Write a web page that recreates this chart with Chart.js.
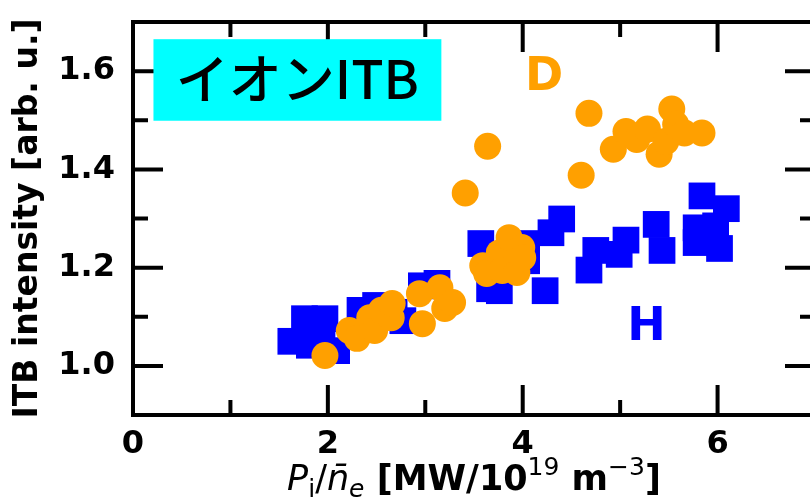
<!DOCTYPE html>
<html>
<head>
<meta charset="utf-8">
<script src="https://cdn.jsdelivr.net/npm/chart.js@4.4.1/dist/chart.umd.min.js"></script>
<style>
  html, body { margin: 0; padding: 0; background: #fff; overflow: hidden; }
  #wrap { width: 810px; height: 503px; overflow: hidden; }
</style>
</head>
<body>
<div id="wrap"><canvas id="myChart" width="830" height="503"></canvas></div>
<script>
// D (deuterium) points
var dX = [1.97, 2.22, 2.30, 2.43, 2.48, 2.55, 2.65, 2.66, 2.94, 2.97, 3.15, 3.20, 3.28,
          3.41, 3.64, 3.59, 3.63, 3.76, 3.79, 3.86, 3.94, 3.99, 4.00,
          4.60, 4.68, 4.93, 5.06, 5.17, 5.28, 5.40, 5.47, 5.53, 5.57, 5.66, 5.84];
var dY = [1.021, 1.072, 1.056, 1.098, 1.072, 1.113, 1.098, 1.127, 1.147, 1.086, 1.159, 1.117, 1.129,
          1.352, 1.447, 1.204, 1.188, 1.230, 1.194, 1.261, 1.190, 1.241, 1.220,
          1.388, 1.514, 1.441, 1.477, 1.461, 1.482, 1.431, 1.457, 1.523, 1.492, 1.474, 1.474];

// H (hydrogen) points
var hX = [1.62, 1.76, 1.97, 1.94, 2.09, 1.81,
          2.33, 2.49, 2.68, 2.77, 2.96, 3.12,
          3.57, 3.66, 3.76, 4.04, 4.04, 4.29, 4.40, 4.23,
          4.68, 4.75, 4.99, 5.06, 5.37, 5.43, 5.78, 5.78, 5.84, 6.09, 6.02, 5.98];
var hY = [1.050, 1.096, 1.096, 1.056, 1.031, 1.042,
          1.113, 1.123, 1.109, 1.092, 1.163, 1.168,
          1.249, 1.157, 1.153, 1.249, 1.214, 1.271, 1.299, 1.153,
          1.195, 1.235, 1.227, 1.256, 1.288, 1.235, 1.281, 1.251, 1.346, 1.320, 1.239, 1.285];

var xTicks = [0, 2, 4, 6];
var xMinor = [1, 3, 5, 7];
var yTicks = [1.0, 1.2, 1.4, 1.6];
var yMinor = [1.1, 1.3, 1.5];

function pts(xs, ys) {
    return xs.map(function (x, i) { return { x: x, y: ys[i] }; });
}

// frame, inward ticks, labels
var framePlugin = {
    id: 'frame',
    afterDraw: function (chart) {
        var ctx = chart.ctx;
        var a = chart.chartArea;
        var sx = chart.scales.x, sy = chart.scales.y;
        ctx.save();
        ctx.strokeStyle = '#000';
        ctx.lineWidth = 4;
        ctx.lineCap = 'butt';
        ctx.strokeRect(a.left, a.top, a.right - a.left, a.bottom - a.top);

        function xt(v, len) {
            var p = sx.getPixelForValue(v);
            ctx.beginPath();
            ctx.moveTo(p, a.bottom); ctx.lineTo(p, a.bottom - len);
            ctx.moveTo(p, a.top); ctx.lineTo(p, a.top + len);
            ctx.stroke();
        }
        function yt(v, len) {
            var p = sy.getPixelForValue(v);
            ctx.beginPath();
            ctx.moveTo(a.left, p); ctx.lineTo(a.left + len, p);
            ctx.moveTo(a.right, p); ctx.lineTo(a.right - len, p);
            ctx.stroke();
        }
        xTicks.forEach(function (v) { xt(v, 30); });
        xMinor.forEach(function (v) { xt(v, 15); });
        yTicks.forEach(function (v) { yt(v, 30); });
        yMinor.forEach(function (v) { yt(v, 15); });

        // cyan label box
        var bx0 = sx.getPixelForValue(0.21), bx1 = sx.getPixelForValue(3.165);
        var by0 = sy.getPixelForValue(1.665), by1 = sy.getPixelForValue(1.499);
        ctx.fillStyle = '#00ffff';
        ctx.fillRect(bx0, by0, bx1 - bx0, by1 - by0);
        ctx.fillStyle = '#000';
        ctx.font = '500 53px "Noto Sans CJK JP"';
        ctx.textAlign = 'center';
        ctx.textBaseline = 'alphabetic';
        ctx.fillText('イオンITB', (bx0 + bx1) / 2, by1 - 22);

        ctx.font = 'bold 46px "DejaVu Sans"';
        ctx.textBaseline = 'middle';
        ctx.fillStyle = '#ffa000';
        ctx.fillText('D', sx.getPixelForValue(4.22), sy.getPixelForValue(1.586));
        ctx.fillStyle = '#0000ff';
        ctx.fillText('H', sx.getPixelForValue(5.27), sy.getPixelForValue(1.076));

        // x-axis title with sub/superscripts
        var parts = [
            { t: 'P', f: 'italic 35px "DejaVu Sans"', dy: 0 },
            { t: 'i', f: '25px "DejaVu Sans"', dy: 7 },
            { t: '/', f: '35px "DejaVu Sans"', dy: 0 },
            { t: 'n\u0304', f: 'italic 35px "DejaVu Sans"', dy: 0 },
            { t: 'e', f: 'italic 25px "DejaVu Sans"', dy: 7 },
            { t: ' [MW/10', f: 'bold 35px "DejaVu Sans"', dy: 0 },
            { t: '19', f: '25px "DejaVu Sans"', dy: -15 },
            { t: ' m', f: 'bold 35px "DejaVu Sans"', dy: 0 },
            { t: '\u22123', f: '25px "DejaVu Sans"', dy: -15 },
            { t: ']', f: 'bold 35px "DejaVu Sans"', dy: 0 }
        ];
        ctx.textAlign = 'left';
        ctx.textBaseline = 'alphabetic';
        ctx.fillStyle = '#000';
        var total = 0;
        parts.forEach(function (p) { ctx.font = p.f; p.w = ctx.measureText(p.t).width; total += p.w; });
        var cx = (a.left + a.right) / 2;
        var x = cx - total / 2, base = 490;
        parts.forEach(function (p) {
            ctx.font = p.f;
            ctx.fillText(p.t, x, base + p.dy);
            x += p.w;
        });
        ctx.restore();
    }
};

new Chart(document.getElementById("myChart"), {
    type: 'scatter',
    data: {
        datasets: [
            {
                label: 'D',
                data: pts(dX, dY),
                pointStyle: 'circle',
                pointRadius: 13.5,
                pointHoverRadius: 13.5,
                backgroundColor: '#ffa000',
                borderWidth: 0,
                order: 0
            },
            {
                label: 'H',
                data: pts(hX, hY),
                pointStyle: 'rect',
                pointRadius: 18.9,
                pointHoverRadius: 18.9,
                backgroundColor: '#0000ff',
                borderWidth: 0,
                order: 1
            }
        ]
    },
    options: {
        responsive: false,
        animation: false,
        events: [],
        layout: { autoPadding: false, padding: { left: 0, top: 22, right: 15, bottom: 0 } },
        scales: {
            x: {
                type: 'linear',
                min: 0, max: 7,
                afterFit: function (s) { s.height = 88; s.paddingLeft = 0; s.paddingRight = 0; },
                afterBuildTicks: function (s) { s.ticks = xTicks.map(function (v) { return { value: v }; }); },
                grid: { display: false },
                border: { display: false },
                ticks: {
                    padding: 2,
                    color: '#000',
                    font: { family: 'DejaVu Sans', size: 32, weight: 'bold' },
                    maxRotation: 0
                }
            },
            y: {
                type: 'linear',
                min: 0.9, max: 1.7,
                afterFit: function (s) { s.width = 133; s.paddingTop = 0; s.paddingBottom = 0; },
                afterBuildTicks: function (s) { s.ticks = yTicks.map(function (v) { return { value: v }; }); },
                grid: { display: false },
                border: { display: false },
                ticks: {
                    padding: 10,
                    color: '#000',
                    font: { family: 'DejaVu Sans', size: 32, weight: 'bold' },
                    callback: function (v) { return v.toFixed(1); }
                },
                title: {
                    display: true,
                    text: 'ITB intensity [arb. u.]',
                    color: '#000',
                    font: { family: 'DejaVu Sans', size: 33, weight: 'bold' },
                    padding: { top: 9, bottom: 0 }
                }
            }
        },
        plugins: {
            legend: { display: false },
            tooltip: { enabled: false }
        }
    },
    plugins: [framePlugin]
});
</script>
</body>
</html>
